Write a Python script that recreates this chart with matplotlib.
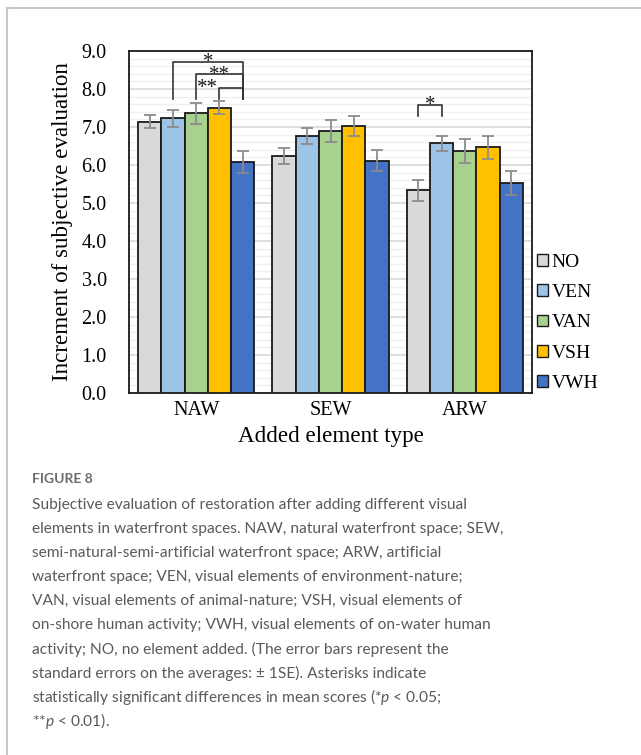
import matplotlib
matplotlib.use("Agg")
import matplotlib.pyplot as plt
from matplotlib.lines import Line2D
import numpy as np

plt.rcParams['mathtext.fontset'] = 'custom'
plt.rcParams['mathtext.rm'] = 'Lato'
plt.rcParams['mathtext.it'] = 'Lato:italic'

# ---------------- data ----------------
categories = ["NAW", "SEW", "ARW"]
series_names = ["NO", "VEN", "VAN", "VSH", "VWH"]
means = {
    "NO":  [7.14, 6.24, 5.33],
    "VEN": [7.23, 6.76, 6.57],
    "VAN": [7.36, 6.90, 6.37],
    "VSH": [7.51, 7.03, 6.47],
    "VWH": [6.07, 6.11, 5.53],
}
errors = {
    "NO":  [0.17, 0.21, 0.28],
    "VEN": [0.22, 0.22, 0.20],
    "VAN": [0.28, 0.29, 0.31],
    "VSH": [0.18, 0.26, 0.30],
    "VWH": [0.29, 0.28, 0.32],
}
colors = ["#D9D9D9", "#9DC3E6", "#A9D18E", "#FFC000", "#4472C4"]
yticks = [0.0, 1.0, 2.0, 3.0, 4.0, 5.0, 6.0, 7.0, 8.0, 9.0]

# significance brackets: (category index, series a, series b, bracket height, leg bottom, label)
brackets = [
    (0, 1, 4, 8.72, 7.74, "*"),
    (0, 2, 4, 8.40, 7.74, "**"),
    (0, 3, 4, 8.03, 7.74, "**"),
    (2, 0, 1, 7.58, 7.30, "*"),
]

caption_lines = [
    "Subjective evaluation of restoration after adding different visual",
    "elements in waterfront spaces. NAW, natural waterfront space; SEW,",
    "semi-natural-semi-artificial waterfront space; ARW, artificial",
    "waterfront space; VEN, visual elements of environment-nature;",
    "VAN, visual elements of animal-nature; VSH, visual elements of",
    "on-shore human activity; VWH, visual elements of on-water human",
    "activity; NO, no element added. (The error bars represent the",
    "standard errors on the averages: \u00b1 1SE). Asterisks indicate",
    "statistically significant differences in mean scores (*$p$ < 0.05;",
    "**$p$ < 0.01).",
]

# ---------------- figure ----------------
W, H = 641, 755
fig = plt.figure(figsize=(W / 100, H / 100), dpi=100)
ax = fig.add_axes([129 / W, 1 - 393 / H, 403 / W, 342 / H])

serif = ["Liberation Serif", "DejaVu Serif"]
x = np.arange(len(categories))
bw = 0.173
centers = {}
for i, name in enumerate(series_names):
    pos = x + (i - 2) * bw
    centers[name] = pos
    ax.bar(pos, means[name], width=bw, color=colors[i], edgecolor="#1a1a1a",
           linewidth=1.3, label=name, zorder=3)
    ax.errorbar(pos, means[name], yerr=errors[name], fmt="none",
                ecolor="#8c8c8c", elinewidth=1.3, capsize=4.2, capthick=1.3, zorder=4)

ax.set_xlim(-0.5, 2.5)
ax.set_ylim(0, 9)
ax.set_yticks(yticks)
ax.set_yticklabels([f"{v:.1f}" for v in yticks], fontfamily=serif, fontsize=14.5)
ax.set_yticks(np.arange(0, 9.01, 0.2), minor=True)
ax.set_xticks(x)
ax.set_xticklabels(categories, fontfamily=serif, fontsize=14.5)
ax.tick_params(axis="both", which="both", length=0)
ax.tick_params(axis="y", pad=16)
ax.tick_params(axis="x", pad=6)
ax.grid(axis="y", which="major", color="#d9d9d9", linewidth=1.2, zorder=0)
ax.grid(axis="y", which="minor", color="#f0f0f0", linewidth=1.0, zorder=0)
ax.set_axisbelow(True)
for s in ax.spines.values():
    s.set_color("#1a1a1a")
    s.set_linewidth(1.3)

ax.set_ylabel("Increment of subjective evaluation", fontfamily=serif, fontsize=16.6)
ax.yaxis.set_label_coords(-0.139, 0.5)
ax.set_xlabel("Added element type", fontfamily=serif, fontsize=16.6)
ax.xaxis.set_label_coords(0.5, -0.096)

# brackets
for ci, a, b, top, bot, lab in brackets:
    xa = centers[series_names[a]][ci]
    xb = centers[series_names[b]][ci]
    ax.plot([xa, xa, xb, xb], [bot, top, top, bot], color="#333333", linewidth=1.2,
            zorder=5, clip_on=False)
    if (ci, a) == (0, 3):
        tx = xa - 0.09
        ty = top - 0.14
    elif (ci, a) == (0, 2):
        tx = (xa + xb) / 2
        ty = top - 0.17
    else:
        tx = (xa + xb) / 2
        ty = top - 0.13
    ax.text(tx, ty, lab, ha="center", va="baseline", fontfamily=serif, fontsize=15,
            color="#1a1a1a", zorder=6)

# legend
leg = ax.legend(loc="upper left", bbox_to_anchor=(537 / W, 1 - 254 / H),
                bbox_transform=fig.transFigure, frameon=False,
                prop={"family": serif, "size": 14}, handlelength=0.55,
                handleheight=0.55, handletextpad=0.2, labelspacing=0.68,
                borderaxespad=0, borderpad=0)
for p in leg.get_patches():
    p.set_linewidth(1.0)

# outer border lines (top and left)
fig.add_artist(Line2D([7 / W, 7 / W], [0, 1 - 7.5 / H], transform=fig.transFigure,
                      color="#c8c8c8", linewidth=1.5))
fig.add_artist(Line2D([7 / W, 1], [1 - 7.5 / H, 1 - 7.5 / H], transform=fig.transFigure,
                      color="#c8c8c8", linewidth=1.5))

# caption
fig.text(32 / W, 1 - 479 / H, "FIGURE 8", fontfamily="Lato", fontweight="bold",
         fontsize=10, color="#6b6b6b", va="center", ha="left")
for k, line in enumerate(caption_lines):
    fig.text(32 / W, 1 - (505 + 24 * k) / H, line, fontfamily="Lato",
             fontsize=11.15, color="#5a5a5a", va="center", ha="left")

fig.savefig("out.png", dpi=100)
